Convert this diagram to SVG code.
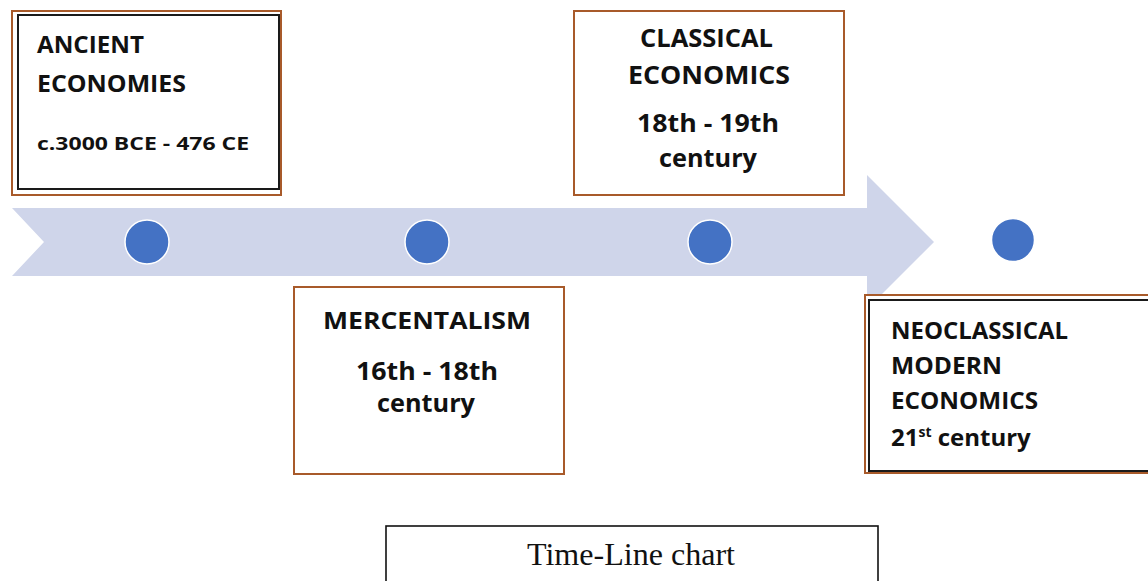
<svg xmlns="http://www.w3.org/2000/svg" width="1148" height="581" viewBox="0 0 1148 581">
<style>
.box{fill:#fff;stroke:#A85A2A;stroke-width:2}
.inner{fill:none;stroke:#1a1a1a;stroke-width:2}
.t{font-family:"Open Sans","Noto Sans",sans-serif;font-weight:bold;fill:#111}
.dot{fill:#4472C4;stroke:#fff;stroke-width:1.5}
.cap{font-family:"Liberation Serif","Times New Roman",serif;fill:#111}
</style>
<rect width="1148" height="581" fill="#fff"/>
<g id="connectors">
<polygon id="timeline-arrow" points="12,208 867,208 867,175 934,242 867,309 867,276 12,276 44,242" fill="#CFD5EA"/>
</g>
<g id="markers">
<circle class="dot" cx="147" cy="242" r="22"/>
<circle class="dot" cx="427" cy="242" r="22"/>
<circle class="dot" cx="710" cy="242" r="22"/>
<circle class="dot" cx="1013" cy="240" r="21.5"/>
</g>
<g id="node-ancient">
<rect class="box" x="12" y="11" width="269" height="184"/>
<rect class="inner" x="18" y="15" width="261" height="174"/>
<text class="t" x="37" y="53" font-size="23" textLength="107" lengthAdjust="spacingAndGlyphs">ANCIENT</text>
<text class="t" x="37" y="92" font-size="23" textLength="149" lengthAdjust="spacingAndGlyphs">ECONOMIES</text>
<text class="t" x="37" y="150" font-size="18" textLength="212" lengthAdjust="spacingAndGlyphs">c.3000 BCE - 476 CE</text>
</g>
<g id="node-classical">
<rect class="box" x="574" y="11" width="270" height="184"/>
<text class="t" x="640" y="47" font-size="25" textLength="133" lengthAdjust="spacingAndGlyphs">CLASSICAL</text>
<text class="t" x="628" y="84" font-size="25" textLength="162" lengthAdjust="spacingAndGlyphs">ECONOMICS</text>
<text class="t" x="637" y="132" font-size="25" textLength="142" lengthAdjust="spacingAndGlyphs">18th - 19th</text>
<text class="t" x="659" y="167" font-size="25" textLength="98" lengthAdjust="spacingAndGlyphs">century</text>
</g>
<g id="node-mercantalism">
<rect class="box" x="294" y="287" width="270" height="187"/>
<text class="t" x="323" y="329" font-size="24" textLength="208" lengthAdjust="spacingAndGlyphs">MERCENTALISM</text>
<text class="t" x="356" y="380" font-size="25" textLength="142" lengthAdjust="spacingAndGlyphs">16th - 18th</text>
<text class="t" x="377" y="412" font-size="25" textLength="98" lengthAdjust="spacingAndGlyphs">century</text>
</g>
<g id="node-neoclassical">
<rect class="box" x="865" y="295" width="300" height="178"/>
<rect class="inner" x="869" y="300" width="300" height="171"/>
<text class="t" x="891" y="339" font-size="23" textLength="177" lengthAdjust="spacingAndGlyphs">NEOCLASSICAL</text>
<text class="t" x="891" y="374" font-size="23" textLength="111" lengthAdjust="spacingAndGlyphs">MODERN</text>
<text class="t" x="891" y="409" font-size="23" textLength="147" lengthAdjust="spacingAndGlyphs">ECONOMICS</text>
<text class="t" x="891" y="446" font-size="24">21<tspan font-size="14" dy="-9">st</tspan><tspan dy="9"> century</tspan></text>
</g>
<g id="caption">
<rect x="386" y="526" width="492" height="70" fill="#fff" stroke="#111" stroke-width="1.6"/>
<text class="cap" x="631" y="565" font-size="31" text-anchor="middle" textLength="208" lengthAdjust="spacingAndGlyphs">Time-Line chart</text>
</g>
</svg>
